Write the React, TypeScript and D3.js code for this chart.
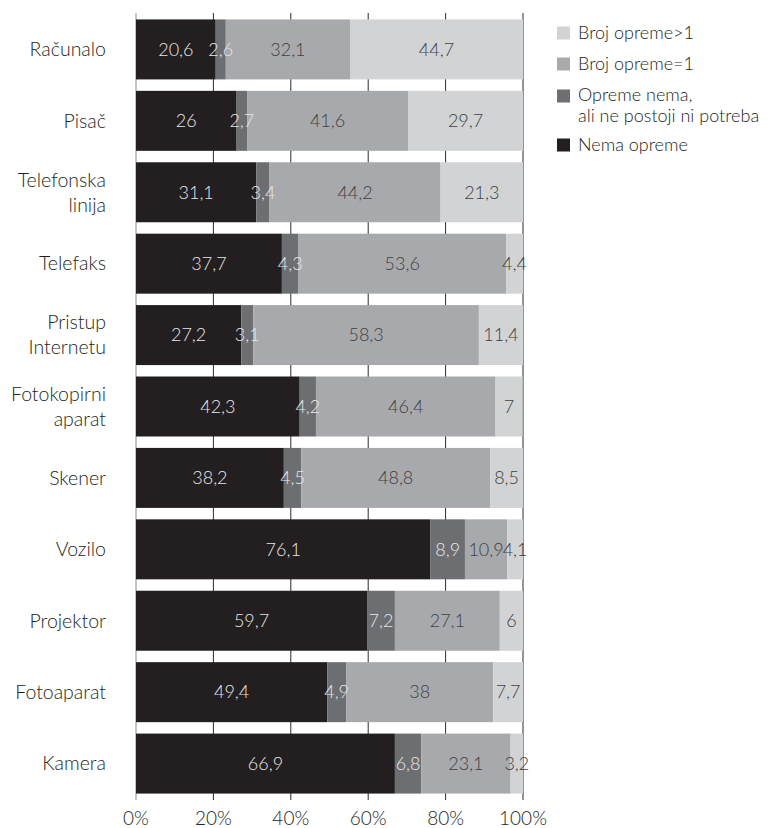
import { useEffect } from "react";
import * as d3 from "d3";

const categories = [
  ["Računalo"],
  ["Pisač"],
  ["Telefonska", "linija"],
  ["Telefaks"],
  ["Pristup", "Internetu"],
  ["Fotokopirni", "aparat"],
  ["Skener"],
  ["Vozilo"],
  ["Projektor"],
  ["Fotoaparat"],
  ["Kamera"],
];

const nemaOpreme = [20.6, 26, 31.1, 37.7, 27.2, 42.3, 38.2, 76.1, 59.7, 49.4, 66.9];
const nemaNiPotreba = [2.6, 2.7, 3.4, 4.3, 3.1, 4.2, 4.5, 8.9, 7.2, 4.9, 6.8];
const brojJedan = [32.1, 41.6, 44.2, 53.6, 58.3, 46.4, 48.8, 10.9, 27.1, 38, 23.1];
const brojViseOdJedan = [44.7, 29.7, 21.3, 4.4, 11.4, 7, 8.5, 4.1, 6, 7.7, 3.2];

const seriesNames = [
  ["Nema opreme"],
  ["Opreme nema,", "ali ne postoji ni potreba"],
  ["Broj opreme=1"],
  ["Broj opreme>1"],
];
const seriesValues = [nemaOpreme, nemaNiPotreba, brojJedan, brojViseOdJedan];
const colors = ["#231f20", "#6d6e71", "#a7a9ac", "#d1d3d4"];
const labelColors = ["#e6e7e8", "#e6e7e8", "#414042", "#414042"];
const ticks = [0, 20, 40, 60, 80, 100];

const W = 781;
const H = 828;
const FONT = "Lato, 'Open Sans', sans-serif";

export default function App() {
  useEffect(() => {
    document.body.style.margin = "0";
  }, []);

  const keys = categories.map((c) => c.join(" "));
  const x = d3.scaleLinear().domain([0, 100]).range([136, 523]);
  const y = d3
    .scaleBand<string>()
    .domain(keys)
    .range([13, 800])
    .paddingInner(0.16)
    .paddingOuter(0.09);

  const rows = keys.map((k, i) => {
    let acc = 0;
    const segs = seriesValues.map((vals, s) => {
      const v = vals[i];
      const seg = { s, x0: acc, x1: acc + v, v };
      acc += v;
      return seg;
    });
    return { key: k, lines: categories[i], segs };
  });

  const bw = y.bandwidth();
  const fmt = (v: number) => String(v).replace(".", ",");

  // legend drawn top-down in reverse series order
  const legendOrder = [3, 2, 1, 0];
  const legendY = [33, 64, 95, 145];

  return (
    <svg
      width={W}
      height={H}
      style={{ display: "block", fontFamily: FONT, fontWeight: 300 }}
    >
      <rect width={W} height={H} fill="#fff" />
      {/* grid */}
      {ticks.map((t) => (
        <line
          key={t}
          x1={x(t)}
          x2={x(t)}
          y1={13}
          y2={800}
          stroke={t === 0 ? "#8a8a8a" : "#2b2b2b"}
          strokeWidth={1}
        />
      ))}
      {rows.map((r) => (
        <g key={r.key}>
          {r.segs.map((sg) => (
            <rect
              key={sg.s}
              x={x(sg.x0)}
              y={y(r.key)!}
              width={Math.max(0, x(sg.x1) - x(sg.x0))}
              height={bw}
              fill={colors[sg.s]}
            />
          ))}
          {r.segs.map((sg) => (
            <text
              key={"t" + sg.s}
              x={(x(sg.x0) + x(sg.x1)) / 2}
              y={y(r.key)! + bw / 2}
              dy="0.35em"
              textAnchor="middle"
              fill={labelColors[sg.s]}
              fontSize={18}
            >
              {fmt(sg.v)}
            </text>
          ))}
          {r.lines.map((ln, li) => (
            <text
              key={"c" + li}
              x={106}
              y={y(r.key)! + bw / 2 + (li - (r.lines.length - 1) / 2) * 25}
              dy="0.35em"
              textAnchor="end"
              fill="#231f20"
              fontSize={19.5}
            >
              {ln}
            </text>
          ))}
        </g>
      ))}
      {ticks.map((t) => (
        <text
          key={"x" + t}
          x={x(t)}
          y={818}
          dy="0.35em"
          textAnchor="middle"
          fill="#231f20"
          fontSize={19}
        >
          {t}%
        </text>
      ))}
      {legendOrder.map((s, i) => (
        <g key={"l" + s}>
          <rect x={557} y={legendY[i] - 6.5 + (i === 2 ? 1 : 0)} width={13} height={13} fill={colors[s]} />
          {seriesNames[s].map((ln, li) => (
            <text
              key={li}
              x={578}
              y={legendY[i] + li * 20.5}
              dy="0.35em"
              fill="#231f20"
              fontSize={18}
            >
              {ln}
            </text>
          ))}
        </g>
      ))}
    </svg>
  );
}
